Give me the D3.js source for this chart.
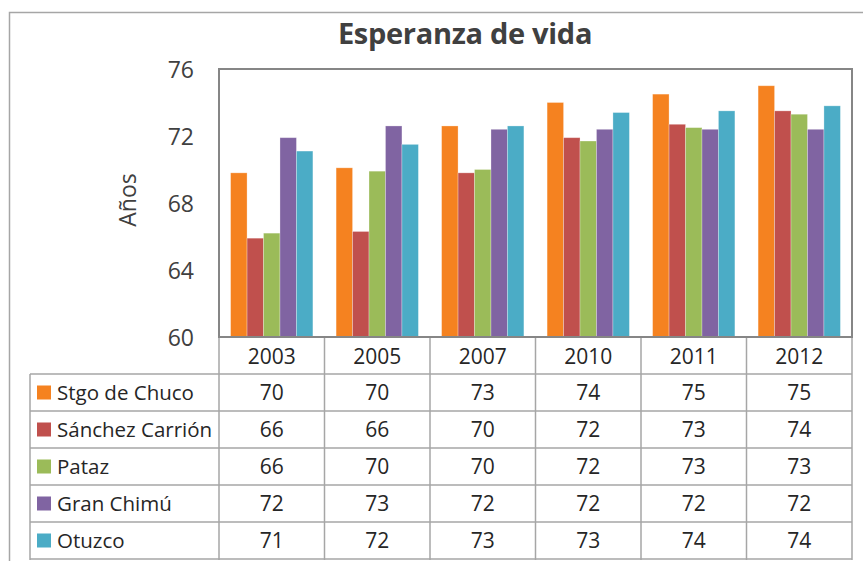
<!DOCTYPE html>
<html>
<head>
<meta charset="utf-8">
<script src="https://cdn.jsdelivr.net/npm/d3@7"></script>
<style>
  body { margin: 0; background: #fff; }
  svg { display: block; font-family: "Open Sans", sans-serif; }
</style>
</head>
<body>
<div id="chart"></div>
<script>
// chart data
var years = ["2003", "2005", "2007", "2010", "2011", "2012"];
var series = ["Stgo de Chuco", "Sánchez Carrión", "Pataz", "Gran Chimú", "Otuzco"];
var stgoDeChuco    = [69.8, 70.1, 72.6, 74.0, 74.5, 75.0];
var sanchezCarrion = [65.9, 66.3, 69.8, 71.9, 72.7, 73.5];
var pataz          = [66.2, 69.9, 70.0, 71.7, 72.5, 73.3];
var granChimu      = [71.9, 72.6, 72.4, 72.4, 72.4, 72.4];
var otuzco         = [71.1, 71.5, 72.6, 73.4, 73.5, 73.8];
var yTicks = [60, 64, 68, 72, 76];
var colours = ["#f58220", "#c0504d", "#9bbb59", "#8064a2", "#4bacc6"];

var values = [stgoDeChuco, sanchezCarrion, pataz, granChimu, otuzco];

var width = 863,
    height = 561;

var plot = {left: 219, right: 852, top: 69, bottom: 337};
var tableLeft = 30,
    rowH = 37,
    headerBottom = 374;

var svg = d3.select("#chart")
    .append("svg")
    .attr("width", width)
    .attr("height", height);

// outer chart border
svg.append("path")
    .attr("d", "M9.5," + (height + 5) + "V12.5H" + (width + 5))
    .style("fill", "none")
    .style("stroke", "#a6a6a6")
    .style("stroke-width", 1.5);

svg.append("text")
    .attr("x", 465)
    .attr("y", 44)
    .attr("text-anchor", "middle")
    .style("font-size", "29px")
    .style("font-weight", "bold")
    .style("letter-spacing", "-0.3px")
    .style("fill", "#404040")
    .text("Esperanza de vida");

var x0 = d3.scaleBand()
    .domain(years)
    .range([plot.left, plot.right])
    .paddingInner(0.22)
    .paddingOuter(0.11);

var x1 = d3.scaleBand()
    .domain(series)
    .range([0, x0.bandwidth()]);

var y = d3.scaleLinear()
    .domain([60, 76])
    .range([plot.bottom, plot.top]);

// y axis labels
var yAxis = svg.append("g")
    .attr("transform", "translate(" + (plot.left - 25) + ",0)")
    .call(d3.axisLeft(y).tickValues(yTicks).tickSize(0).tickPadding(0));
yAxis.select(".domain").remove();
yAxis.selectAll("text")
    .style("font-size", "23px")
    .style("font-family", "'Open Sans', sans-serif")
    .style("fill", "#404040")
    .attr("dy", "0.35em");

svg.append("text")
    .attr("transform", "translate(136,200) rotate(-90)")
    .attr("text-anchor", "middle")
    .style("font-size", "23px")
    .style("fill", "#404040")
    .text("Años");

// bars
var group = svg.append("g")
    .selectAll("g")
    .data(series)
    .enter().append("g")
    .style("fill", function(d, i) { return colours[i]; });

group.selectAll("rect")
    .data(function(d, i) {
        return years.map(function(yr, j) { return {s: d, year: yr, v: values[i][j]}; });
    })
    .enter().append("rect")
    .attr("x", function(d) { return x0(d.year) + x1(d.s); })
    .attr("y", function(d) { return y(d.v); })
    .attr("width", x1.bandwidth())
    .attr("height", function(d) { return plot.bottom - y(d.v); })
    .style("stroke", "#fff")
    .style("stroke-opacity", 0.35)
    .style("stroke-width", 0.8);

// plot area frame
svg.append("rect")
    .attr("x", plot.left)
    .attr("y", plot.top)
    .attr("width", plot.right - plot.left)
    .attr("height", plot.bottom - plot.top)
    .style("fill", "none")
    .style("stroke", "#868686")
    .style("stroke-width", 2);

// data table
var tableBottom = headerBottom + rowH * series.length + 1;
var grid = svg.append("g")
    .style("stroke", "#a6a6a6")
    .style("stroke-width", 1.5);

var bounds = years.map(function(yr) { return x0(yr) - x0.step() * x0.paddingInner() / 2; });
bounds.push(plot.right);

grid.selectAll("line.v")
    .data(bounds)
    .enter().append("line")
    .attr("x1", function(d) { return d; })
    .attr("x2", function(d) { return d; })
    .attr("y1", plot.bottom + 1)
    .attr("y2", tableBottom);

grid.append("line")
    .attr("x1", tableLeft).attr("x2", tableLeft)
    .attr("y1", headerBottom).attr("y2", tableBottom);

grid.selectAll("line.h")
    .data(d3.range(series.length + 1))
    .enter().append("line")
    .attr("x1", tableLeft)
    .attr("x2", plot.right)
    .attr("y1", function(d) { return headerBottom + d * rowH; })
    .attr("y2", function(d) { return headerBottom + d * rowH; });

svg.append("g")
    .selectAll("text")
    .data(years)
    .enter().append("text")
    .attr("x", function(d) { return x0(d) + x0.bandwidth() / 2; })
    .attr("y", (plot.bottom + headerBottom) / 2 + 1)
    .attr("dy", "0.35em")
    .attr("text-anchor", "middle")
    .style("font-size", "21px")
    .style("fill", "#262626")
    .text(function(d) { return d; });

var row = svg.append("g")
    .selectAll("g")
    .data(series)
    .enter().append("g")
    .attr("transform", function(d, i) { return "translate(0," + (headerBottom + i * rowH + rowH / 2) + ")"; });

row.append("rect")
    .attr("x", 37)
    .attr("y", -7)
    .attr("width", 14)
    .attr("height", 14)
    .style("fill", function(d, i) { return colours[i]; });

row.append("text")
    .attr("x", 57)
    .attr("dy", "0.35em")
    .style("font-size", "20.5px")
    .style("fill", "#262626")
    .text(function(d) { return d; });

row.selectAll("text.val")
    .data(function(d, i) { return values[i]; })
    .enter().append("text")
    .attr("class", "val")
    .attr("x", function(d, j) { return x0(years[j]) + x0.bandwidth() / 2; })
    .attr("dy", "0.35em")
    .attr("text-anchor", "middle")
    .style("font-size", "21px")
    .style("fill", "#262626")
    .text(function(d) { return d3.format(".0f")(d); });
</script>
</body>
</html>
